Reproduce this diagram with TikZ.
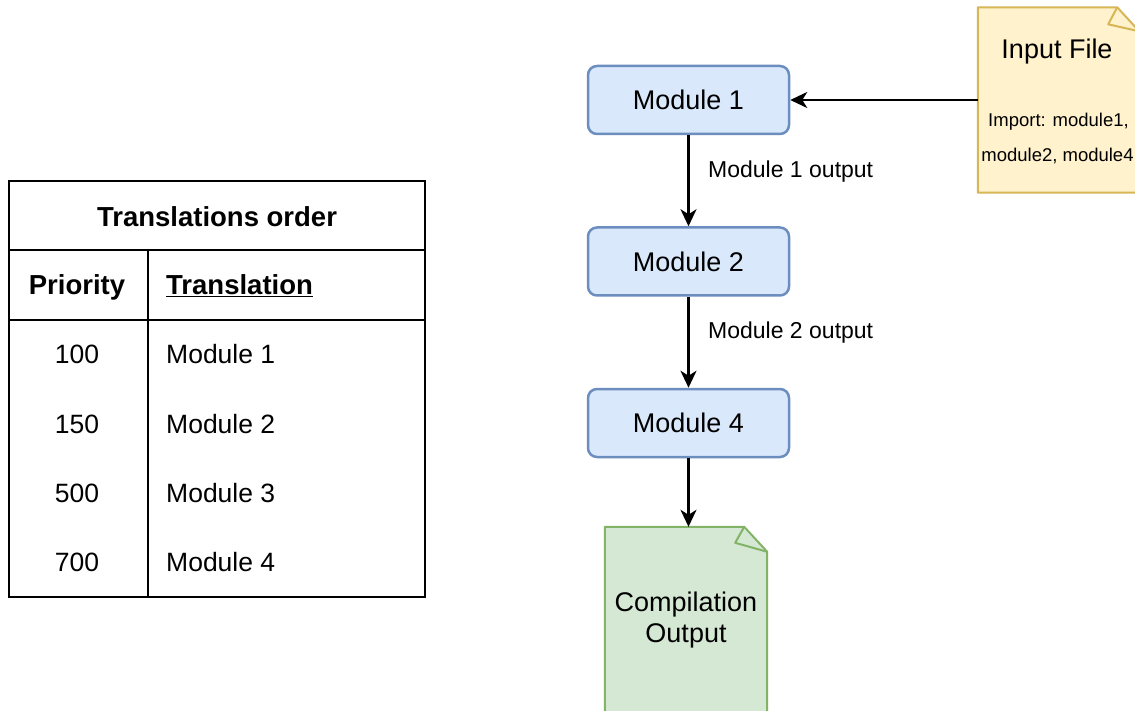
\documentclass[tikz,border=0pt]{standalone}
\usepackage{fontspec}
\setmainfont{Liberation Sans}
\usetikzlibrary{arrows.meta}
\definecolor{modfill}{HTML}{DAE8FC}
\definecolor{moddraw}{HTML}{6C8EBF}
\definecolor{infill}{HTML}{FFF2CC}
\definecolor{indraw}{HTML}{D6B656}
\definecolor{outfill}{HTML}{D5E8D4}
\definecolor{outdraw}{HTML}{82B366}
\tikzset{
  module/.style={draw=moddraw, fill=modfill, line width=2.5pt, rounded corners=9pt,
    minimum width=201pt, minimum height=68pt, inner sep=0pt,
    font=\fontsize{27}{32}\selectfont},
  flow/.style={-{Stealth[length=17pt,width=16pt,inset=5pt]}, line width=2.3pt},
  flowlbl/.style={anchor=west, inner sep=0pt, font=\fontsize{23}{27}\selectfont},
  cell/.style={inner sep=0pt, font=\fontsize{26.5}{31}\selectfont},
  headcell/.style={inner sep=0pt, font=\fontsize{27.5}{32}\selectfont\bfseries},
  notebox/.style={draw=none, inner sep=0pt},
  big/.style={inner sep=0pt, font=\fontsize{27}{31}\selectfont},
  small/.style={inner sep=0pt, font=\fontsize{18.5}{22}\selectfont},
}
\begin{document}
\begin{tikzpicture}[x=1pt,y=-1pt]
\clip (0,0) rectangle (1135,711);
\fill[white] (0,0) rectangle (1135,711);

% ---- priority table ----
\draw[line width=2pt] (9,181) rectangle (425,597);
\draw[line width=2pt] (9,250) -- (425,250);
\draw[line width=2pt] (9,320) -- (425,320);
\draw[line width=2pt] (148,250) -- (148,597);
\node[headcell] (title) at (217,217) {Translations order};
\node[headcell] (hprio) at (77,287) {Priority};
\node[headcell, anchor=west] (htrans) at (166,286) {\underline{Translation}};
\node[cell] (p1) at (77,354) {100};
\node[cell] (p2) at (77,424) {150};
\node[cell] (p3) at (77,493) {500};
\node[cell] (p4) at (77,562) {700};
\node[cell, anchor=west] (t1) at (166,354) {Module 1};
\node[cell, anchor=west] (t2) at (166,424) {Module 2};
\node[cell, anchor=west] (t3) at (166,493) {Module 3};
\node[cell, anchor=west] (t4) at (166,562) {Module 4};

% ---- modules ----
\node[module] (m1) at (688.5,100) {Module 1};
\node[module] (m2) at (688.5,261.5) {Module 2};
\node[module] (m4) at (688.5,423) {Module 4};

% ---- input file note ----
\node[notebox, minimum width=161pt, minimum height=185pt] (inp) at (1058.5,100) {};
\draw[indraw, fill=infill, line width=2pt, line join=round]
  (inp.north west) -- ([xshift=-22pt]inp.north east) -- ([yshift=-24pt]inp.north east)
  -- (inp.south east) -- (inp.south west) -- cycle;
\draw[indraw, line width=2pt, line join=round]
  ([xshift=-22pt]inp.north east) -- ([xshift=-31pt,yshift=-17pt]inp.north east)
  -- ([yshift=-24pt]inp.north east);
\node[big] (inptitle) at (1057,52) {Input File};
\node[small] (imp1) at (1058.5,122) {Import: module1,};
\node[small] (imp2) at (1057.5,156) {module2, module4};

% ---- compilation output note ----
\node[notebox, minimum width=162pt, minimum height=186pt] (out) at (686,620) {};
\draw[outdraw, fill=outfill, line width=2pt, line join=round]
  (out.north west) -- ([xshift=-23pt]out.north east) -- ([yshift=-25pt]out.north east)
  -- (out.south east) -- (out.south west) -- cycle;
\draw[outdraw, line width=2pt, line join=round]
  ([xshift=-23pt]out.north east) -- ([xshift=-32pt,yshift=-16pt]out.north east)
  -- ([yshift=-25pt]out.north east);
\node[big, align=center] (outtxt) at (686,620) {Compilation\\Output};

% ---- connectors ----
\draw[flow] (inp.west) -- (m1.east);
\draw[flow] (m1.south) -- (m2.north);
\draw[flow] (m2.south) -- (m4.north);
\draw[flow] (m4.south) -- (m4.south |- out.north);
\node[flowlbl] (l1) at (708,172) {Module 1 output};
\node[flowlbl] (l2) at (708,333) {Module 2 output};
\end{tikzpicture}
\end{document}
